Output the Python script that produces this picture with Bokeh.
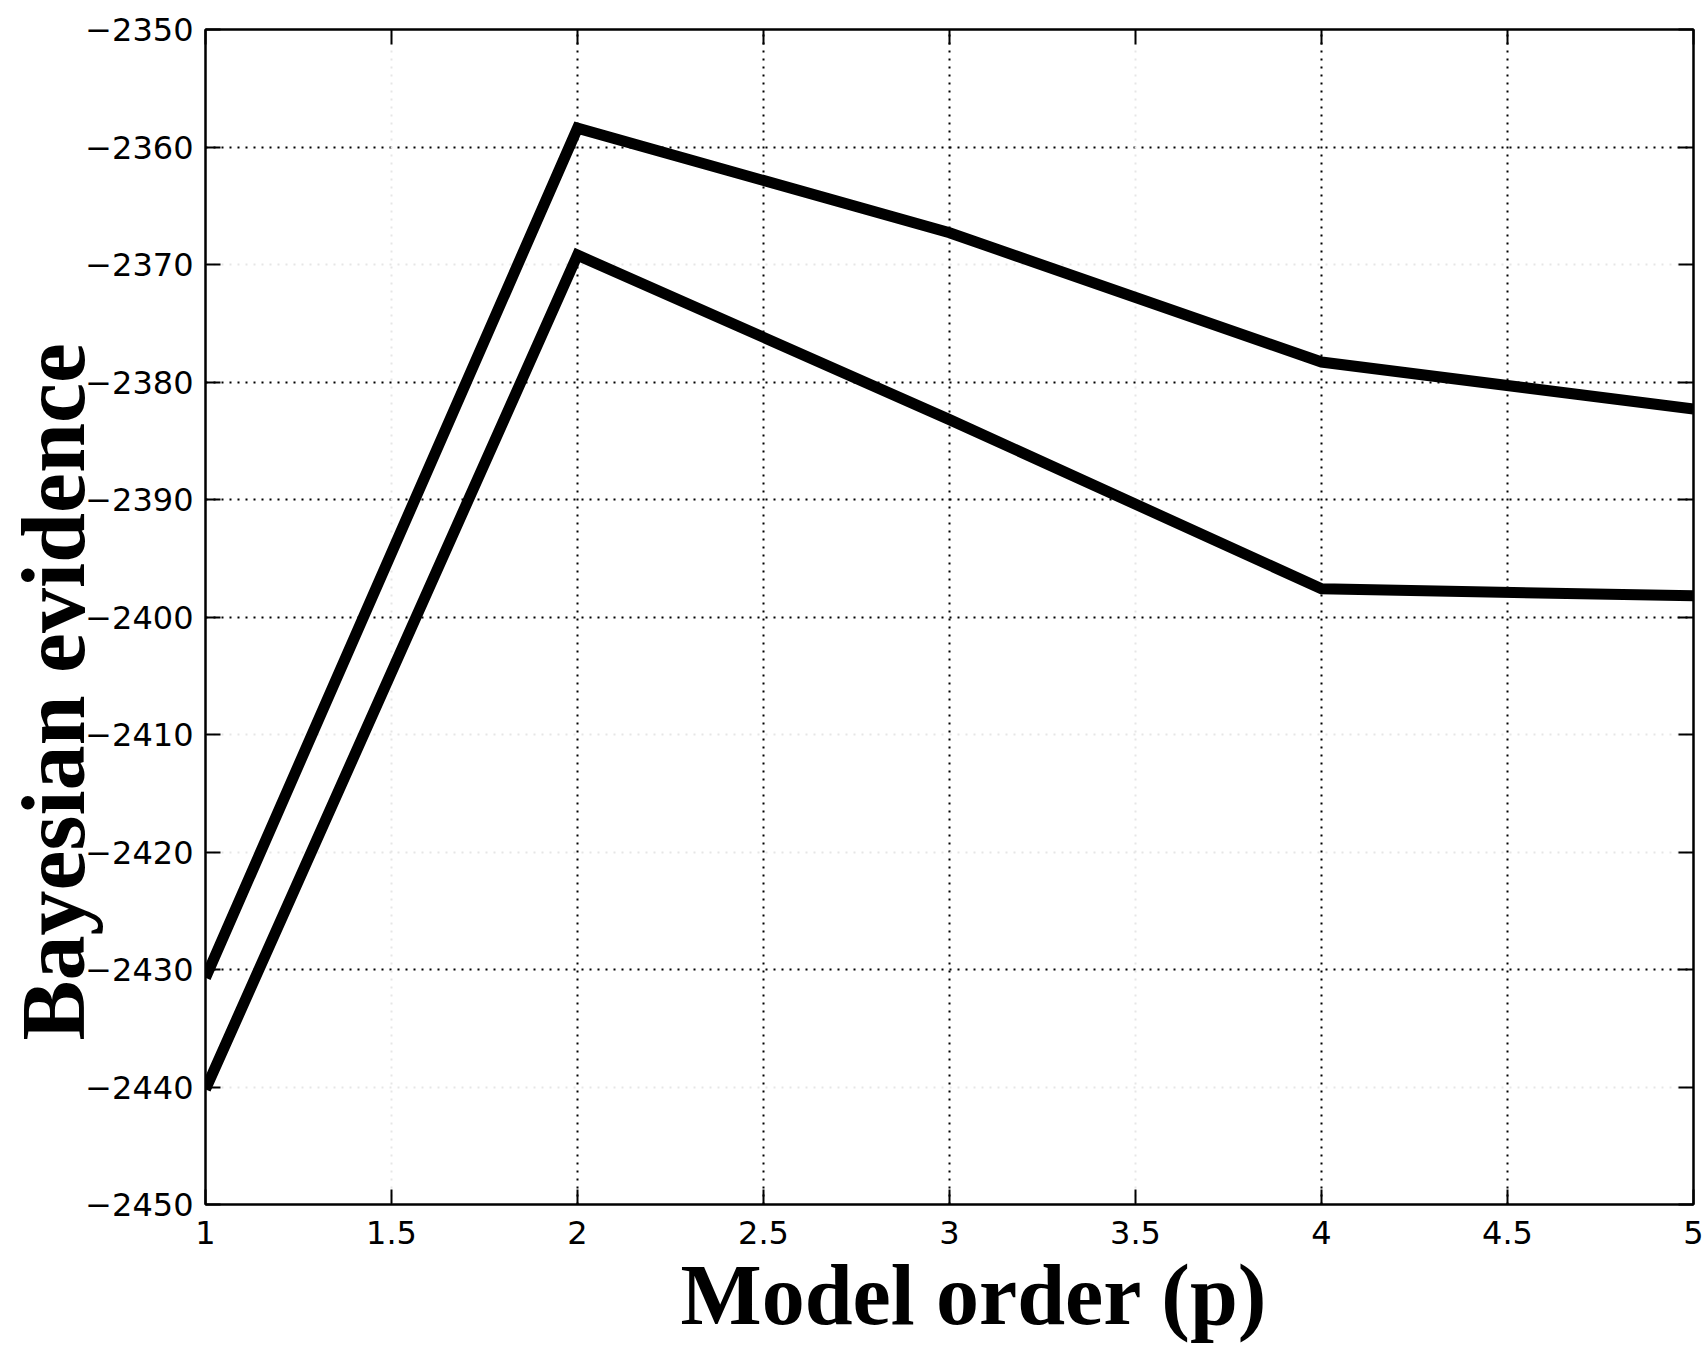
from bokeh.plotting import figure
from bokeh.models import (LinearAxis, FixedTicker, Grid, Title, Range1d, ColumnDataSource)
from bokeh.embed import file_html
from bokeh.resources import INLINE

# ---- data ----
model_order = [1, 2, 3, 4, 5]
evidence_upper = [-2430.7, -2358.4, -2367.3, -2378.3, -2382.3]
evidence_lower = [-2440.2, -2369.2, -2383.2, -2397.6, -2398.2]

x_ticks = [1, 1.5, 2, 2.5, 3, 3.5, 4, 4.5, 5]
x_tick_labels = ["1", "1.5", "2", "2.5", "3", "3.5", "4", "4.5", "5"]
y_ticks = [-2350, -2360, -2370, -2380, -2390, -2400, -2410, -2420, -2430, -2440, -2450]
y_tick_labels = ["\u22122350", "\u22122360", "\u22122370", "\u22122380", "\u22122390",
                 "\u22122400", "\u22122410", "\u22122420", "\u22122430", "\u22122440", "\u22122450"]

# gridlines that are clearly visible vs. faint ones in the reference
x_grid_dark = [2, 2.5, 3, 4, 4.5]
x_grid_faint = [1.5, 3.5]
y_grid_dark = [-2360, -2380, -2390, -2400, -2430]
y_grid_faint = [-2370, -2410, -2420, -2440]

x_label = "Model order (p)"
y_label = "Bayesian evidence"

# ---- figure ----
p = figure(width=1707, height=1352, output_backend="svg", toolbar_location=None,
           x_range=Range1d(1, 5), y_range=Range1d(-2450, -2350),
           min_border_left=205, min_border_right=14, min_border_top=29, min_border_bottom=148)
p.background_fill_color = "white"
p.border_fill_color = "white"
p.outline_line_color = "black"
p.outline_line_width = 2

tick_font = "DejaVu Sans"
tick_size = "32px"

def style_axis(ax, show_labels):
    ax.axis_line_color = "black"
    ax.axis_line_width = 2
    ax.major_tick_in = 15
    ax.major_tick_out = 0
    ax.major_tick_line_width = 2
    ax.major_tick_line_color = "black"
    ax.minor_tick_line_color = None
    ax.major_label_text_font = tick_font
    ax.major_label_text_color = "black"
    if show_labels:
        ax.major_label_text_font_size = tick_size
        ax.major_label_standoff = 14
    else:
        ax.major_label_text_font_size = "0px"
        ax.major_label_text_alpha = 0
        ax.major_label_standoff = 0

p.xaxis.ticker = FixedTicker(ticks=x_ticks)
p.xaxis.major_label_overrides = {t: l for t, l in zip(x_ticks, x_tick_labels)}
p.yaxis.ticker = FixedTicker(ticks=y_ticks)
p.yaxis.major_label_overrides = {t: l for t, l in zip(y_ticks, y_tick_labels)}
style_axis(p.xaxis[0], True)
style_axis(p.yaxis[0], True)
p.xaxis.major_label_standoff = 16
p.yaxis.major_label_standoff = 12

top_axis = LinearAxis(ticker=FixedTicker(ticks=x_ticks))
style_axis(top_axis, False)
p.add_layout(top_axis, "above")
right_axis = LinearAxis(ticker=FixedTicker(ticks=y_ticks))
style_axis(right_axis, False)
p.add_layout(right_axis, "right")

# grids
p.xgrid.ticker = FixedTicker(ticks=x_grid_dark)
p.ygrid.ticker = FixedTicker(ticks=y_grid_dark)
for g in (p.xgrid[0], p.ygrid[0]):
    g.grid_line_color = "black"
    g.grid_line_width = 2
    g.grid_line_dash = "2 6"
p.add_layout(Grid(dimension=0, ticker=FixedTicker(ticks=x_grid_faint),
                  grid_line_color="#e6e6e6", grid_line_width=2, grid_line_dash="2 6"))
p.add_layout(Grid(dimension=1, ticker=FixedTicker(ticks=y_grid_faint),
                  grid_line_color="#e6e6e6", grid_line_width=2, grid_line_dash="2 6"))

src = ColumnDataSource(data=dict(x=model_order, up=evidence_upper, lo=evidence_lower))
p.line("x", "up", source=src, line_color="black", line_width=11, line_join="miter")
p.line("x", "lo", source=src, line_color="black", line_width=11, line_join="miter")

# axis titles
p.add_layout(Title(text=x_label, align="left", offset=475, standoff=0, vertical_align="top",
                   text_font="Liberation Serif", text_font_style="bold",
                   text_font_size="86px", text_color="black"), "below")
p.add_layout(Title(text=y_label, align="left", offset=164, standoff=-40,
                   text_font="Liberation Serif", text_font_style="bold",
                   text_font_size="90px", text_color="black"), "left")

open("out.html", "w").write(file_html(p, INLINE))
